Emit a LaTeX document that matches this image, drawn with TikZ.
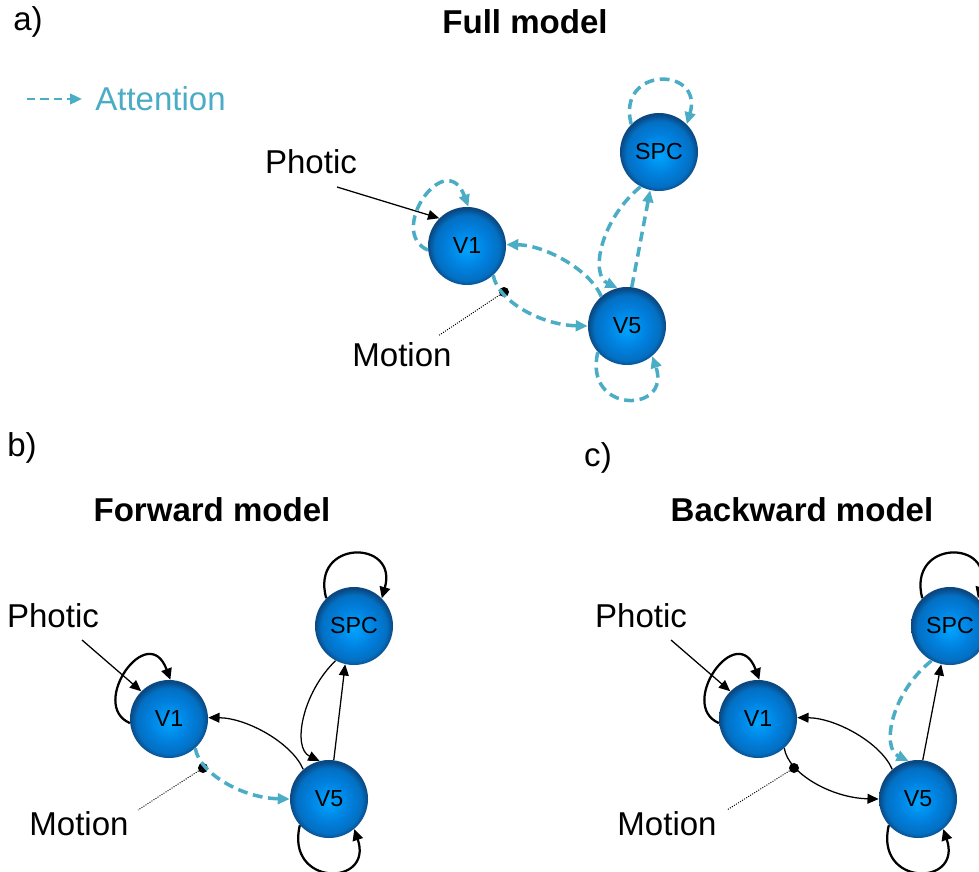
\documentclass[tikz,border=0pt]{standalone}
\usepackage{fontspec}
\setmainfont{Liberation Sans}
\usetikzlibrary{arrows.meta}

\definecolor{attn}{HTML}{4BACC6}
\definecolor{nodein}{RGB}{0,165,255}
\definecolor{nodemid}{RGB}{0,128,222}
\definecolor{nodeout}{RGB}{10,72,130}
\pgfdeclareradialshading{sphere}{\pgfpoint{0bp}{-2bp}}{%
  color(0bp)=(nodein); color(13bp)=(nodemid); color(21bp)=(nodemid!70!nodeout);
  color(25bp)=(nodeout); color(50bp)=(nodeout)}

\begin{document}
\begin{tikzpicture}[x=0.025cm, y=-0.025cm,
  area/.style={circle, minimum size=1.95cm, inner sep=0pt, shading=sphere,
               font=\fontsize{16.5}{16.5}\selectfont},
  lbl/.style={inner sep=0pt, font=\fontsize{23.5}{24}\selectfont},
  title/.style={inner sep=0pt, font=\fontsize{23.5}{24}\selectfont\bfseries},
  conn/.style={-{Triangle[length=8pt,width=7pt]}, line width=0.9pt},
  selfloop/.style={-{Triangle[length=8pt,width=7.5pt]}, line width=1.6pt},
  attarr/.style={-{Triangle[length=8.5pt,width=7.5pt]}, attn, line width=2.5pt,
                 dash pattern=on 7pt off 4pt},
  blob/.style={circle, fill=black, inner sep=0pt, minimum size=0.25cm},
  motionline/.style={densely dotted, line width=0.7pt},
]
\useasboundingbox (0,0) rectangle (979,872);

%% LEGEND AND HEADINGS
\node[lbl] (laba) at (28,22) {a)};
\node[title] (tfull) at (525,22) {Full model};
\coordinate (legs) at (27,99);
\coordinate (lege) at (82,99);
\draw[attarr, line width=1.8pt, dash pattern=on 6pt off 3.5pt] (legs) -- (lege);
\node[lbl, anchor=west, text=attn] (legtxt) at (95,99) {Attention};
\node[lbl] (labb) at (22,448) {b)};
\node[lbl] (labc) at (598,458) {c)};
\node[title] (tfwd) at (212,510) {Forward model};
\node[title] (tbwd) at (802,510) {Backward model};

%% FULL MODEL
\begin{scope}
  \node[area] (v1a)  at (467,246) {V1};
  \node[area] (v5a)  at (627,326) {V5};
  \node[area] (spca) at (659,152) {SPC};
  \node[blob] (dota) at (504,292) {};
  \node[lbl]  (phota) at (311,162) {Photic};
  \node[lbl]  (mota)  at (402,355) {Motion};
  \coordinate (pina) at (337,187);
  \coordinate (mina) at (438,336);

  \draw[conn] (pina) -- (v1a.135);
  \draw[motionline] (dota) -- (mina);
  \draw[attarr] (v1a.186) .. controls (386,232) and (446,146) .. (v1a.88);
  \draw[attarr] (spca.135) .. controls (616,66) and (704,66) .. (spca.45);
  \draw[attarr] (v5a.222) .. controls (583,414) and (672,414) .. (v5a.310);
  \draw[attarr] (v5a.131) .. controls (590,270) and (545,245) .. (v1a.2);
  \draw[attarr] (v1a.312) .. controls (497,300) and (540,325) .. (v5a.180);
  \draw[attarr] (spca.242) .. controls (600,220) and (590,275) .. (v5a.104);
  \draw[attarr] (v5a.83) -- (spca.257);
\end{scope}

%% FORWARD MODEL
\begin{scope}[shift={(-298,473)}]
  \node[area] (v1b)  at (467,246) {V1};
  \node[area] (v5b)  at (627,326) {V5};
  \node[area] (spcb) at (652,153) {SPC};
  \node[blob] (dotb) at (501,295) {};
  \node[lbl]  (photb) at (351,143) {Photic};
  \node[lbl]  (motb)  at (377,351) {Motion};
  \coordinate (pinb) at (380,167);
  \coordinate (minb) at (436,337);

  \draw[conn] (pinb) -- (v1b.135);
  \draw[motionline] (dotb) -- (minb);
  \draw[selfloop] (v1b.186) .. controls (386,232) and (446,146) .. (v1b.88);
  \draw[selfloop] (spcb.135) .. controls (608,66) and (697,66) .. (spcb.45);
  \draw[selfloop] (v5b.222) .. controls (583,414) and (672,414) .. (v5b.310);
  \draw[conn] (v5b.131) .. controls (590,270) and (545,245) .. (v1b.2);
  \draw[attarr] (v1b.312) .. controls (497,300) and (540,325) .. (v5b.180);
  \draw[conn] (spcb.242) .. controls (600,220) and (590,275) .. (v5b.104);
  \draw[conn] (v5b.83) -- (spcb.257);
\end{scope}

%% BACKWARD MODEL
\begin{scope}[shift={(291,473)}]
  \node[area] (v1c)  at (467,246) {V1};
  \node[area] (v5c)  at (627,326) {V5};
  \node[area] (spcc) at (659,153) {SPC};
  \node[blob] (dotc) at (503,295) {};
  \node[lbl]  (photc) at (350,143) {Photic};
  \node[lbl]  (motc)  at (376,351) {Motion};
  \coordinate (pinc) at (380,167);
  \coordinate (minc) at (436,337);

  \draw[conn] (pinc) -- (v1c.135);
  \draw[motionline] (dotc) -- (minc);
  \draw[selfloop] (v1c.186) .. controls (386,232) and (446,146) .. (v1c.88);
  \draw[selfloop] (spcc.135) .. controls (616,66) and (704,66) .. (spcc.45);
  \draw[selfloop] (v5c.222) .. controls (583,414) and (672,414) .. (v5c.310);
  \draw[conn] (v5c.131) .. controls (590,270) and (545,245) .. (v1c.2);
  \draw[conn] (v1c.312) .. controls (497,300) and (540,325) .. (v5c.180);
  \draw[attarr] (spcc.242) .. controls (600,220) and (590,275) .. (v5c.104);
  \draw[conn] (v5c.83) -- (spcc.257);
\end{scope}
\end{tikzpicture}
\end{document}
